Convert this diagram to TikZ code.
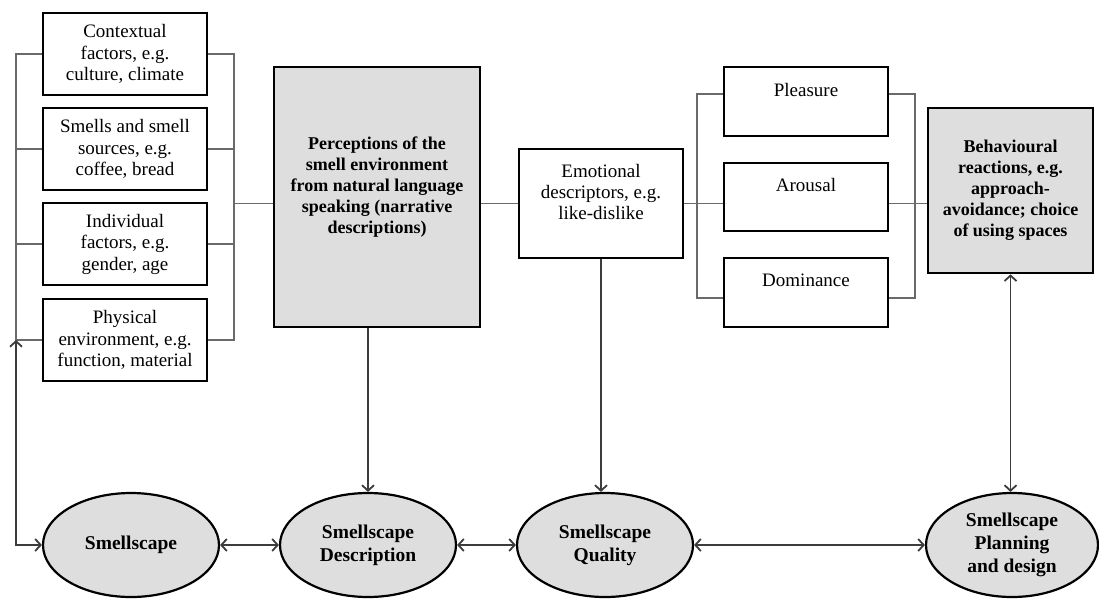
\documentclass[tikz,border=0pt]{standalone}
\usepackage{fontspec}
\setmainfont{Liberation Serif}
\newfontfamily\tnr{Liberation Serif}
\usetikzlibrary{arrows.meta,shapes.geometric}
\definecolor{boxgray}{HTML}{DEDEDE}
\definecolor{linegray}{HTML}{6A6A6A}
\definecolor{arrgray}{HTML}{3C3C3C}
\newcommand\lift[2]{\raisebox{0pt}[\height][\dimexpr\depth+#1\relax]{\begin{tabular}{@{}c@{}}#2\end{tabular}}}
\begin{document}
\begin{tikzpicture}[x=1pt,y=-1pt,
  >={Straight Barb[length=5.5pt,width=12pt]},
  box/.style={draw=black, line width=2.6pt, fill=white, minimum width=164pt, inner sep=0pt, align=center, font=\fontsize{19}{21.5}\selectfont},
  liftbox/.style={draw=black, line width=2.6pt, fill=white, minimum width=164pt, inner sep=0pt, font=\fontsize{19}{21}\selectfont},
  gbox/.style={draw=black, line width=2.6pt, fill=boxgray, inner sep=0pt, font=\tnr\bfseries\fontsize{18}{21}\selectfont},
  oval/.style={ellipse, draw=black, line width=2.2pt, fill=boxgray, minimum width=176pt, minimum height=104pt, inner sep=0pt, align=center, font=\bfseries\fontsize{19.5}{23}\selectfont},
  link/.style={draw=linegray, line width=1.4pt},
  arr/.style={draw=arrgray, line width=1.8pt}
]
\useasboundingbox (0,0) rectangle (1099,598);

% left boxes
\node[box, minimum height=82pt] (b1) at (125,54) {Contextual\\factors, e.g.\\culture, climate};
\node[box, minimum height=82pt] (b2) at (125,149) {Smells and smell\\sources, e.g.\\coffee, bread};
\node[box, minimum height=82pt] (b3) at (125,244) {Individual\\factors, e.g.\\gender, age};
\node[box, minimum height=82pt] (b4) at (125,340) {Physical\\environment, e.g.\\function, material};

% perception box
\node[gbox, minimum width=206pt, minimum height=260pt] (perc) at (377,197)
  {\lift{20pt}{Perceptions of the\\smell environment\\from natural language\\speaking (narrative\\descriptions)}};

% emotional
\node[liftbox, minimum height=109pt] (emo) at (601,203.5) {\lift{19pt}{Emotional\\descriptors, e.g.\\like-dislike}};

% PAD
\node[liftbox, minimum height=69pt] (pl) at (806,101.5) {\lift{19pt}{Pleasure}};
\node[liftbox, minimum height=68pt] (ar) at (806,197) {\lift{20pt}{Arousal}};
\node[liftbox, minimum height=69pt] (do) at (806,292.5) {\lift{21pt}{Dominance}};

% behavioural
\node[gbox, minimum width=165pt, minimum height=165pt, align=center] (beh) at (1010.5,190.5)
  {Behavioural\\reactions, e.g.\\approach-\\avoidance; choice\\of using spaces};

% ellipses
\node[oval] (ss) at (131,545) {Smellscape};
\node[oval] (desc) at (368,545) {Smellscape\\Description};
\node[oval] (qual) at (605,545) {Smellscape\\Quality};
\node[oval, minimum width=172pt] (plan) at (1012,545) {Smellscape\\Planning\\and design};

% bus coordinates
\coordinate (lbus) at (16,0);
\coordinate (rbus) at (234,0);
\coordinate (pbus) at (697,0);
\coordinate (qbus) at (915,0);

% left bus
\draw[link] (b1.west) -- (b1.west -| lbus) -- (b4.west -| lbus) -- (b4.west);
\draw[link] (b2.west) -- (b2.west -| lbus);
\draw[link] (b3.west) -- (b3.west -| lbus);
\draw[arr,<->] (b4.west -| lbus) |- (ss.west);

% right bus
\draw[link] (b1.east) -- (b1.east -| rbus) -- (b4.east -| rbus) -- (b4.east);
\draw[link] (b2.east) -- (b2.east -| rbus);
\draw[link] (b3.east) -- (b3.east -| rbus);
\draw[link] (rbus |- emo.west) -- (perc.west |- emo.west);
\draw[link] (perc.east |- emo.west) -- (emo.west);

% PAD buses
\draw[link] (emo.east) -- (ar.west |- emo.east);
\draw[link] ([yshift=7.5pt]pl.west) -- ([yshift=7.5pt]pl.west -| pbus) -- ([yshift=-5.5pt]do.west -| pbus) -- ([yshift=-5.5pt]do.west);
\draw[link] ([yshift=7.5pt]pl.east) -- ([yshift=7.5pt]pl.east -| qbus) -- ([yshift=-5.5pt]do.east -| qbus) -- ([yshift=-5.5pt]do.east);
\draw[link] (ar.east |- emo.east) -- (beh.west |- emo.east);

% vertical arrows
\draw[arr,->] (desc.north |- perc.south) -- (desc.north);
\draw[arr,->] (emo.south) -- (emo.south |- qual.north);
\draw[arr,<->] (beh.south) -- (beh.south |- plan.north);

% horizontal arrows
\draw[arr,<->] (ss.east) -- (desc.west);
\draw[arr,<->] (desc.east) -- (qual.west);
\draw[arr,<->] (qual.east) -- (plan.west);
\end{tikzpicture}
\end{document}
